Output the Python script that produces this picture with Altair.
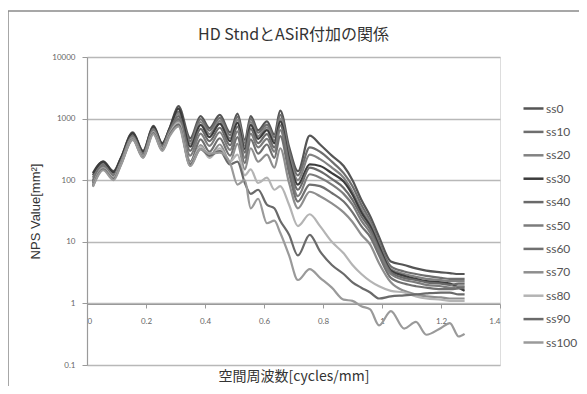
import altair as alt
import pandas as pd

freq = [0.02, 0.055, 0.09, 0.115, 0.155, 0.19, 0.225, 0.255, 0.28, 0.31,
        0.35, 0.385, 0.415, 0.45, 0.485, 0.51, 0.535, 0.555, 0.58, 0.61, 0.635, 0.655, 0.685,
        0.715, 0.755, 0.79, 0.83, 0.87, 0.9, 0.93, 0.96,
        0.99, 1.03, 1.075, 1.115, 1.15, 1.2, 1.23, 1.26, 1.28]

ss0 = [120, 200, 140, 230, 600, 300, 760, 400, 700, 1600,
       480, 1100, 700, 1150, 600, 1200, 450, 1100, 650, 900, 550, 1350, 350,
       140, 530, 380, 250, 170, 100, 48, 26,
       12, 4.8, 4.2, 3.7, 3.4, 3.2, 3.1, 3.0, 3.0]
ss10 = [110, 190, 130, 220, 560, 290, 720, 380, 680, 1300,
        430, 980, 640, 1030, 540, 1080, 400, 990, 590, 800, 500, 1150, 300,
        120, 340, 290, 200, 130, 80, 40, 22,
        10, 4.0, 3.3, 3.0, 2.8, 2.6, 2.5, 2.5, 2.5]
ss20 = [100, 180, 125, 210, 540, 280, 700, 370, 660, 1200,
        390, 880, 560, 920, 480, 960, 360, 880, 520, 720, 440, 1000, 250,
        100, 260, 220, 160, 110, 65, 34, 20,
        9, 3.6, 3.0, 2.7, 2.5, 2.4, 2.3, 2.3, 2.3]
ss30 = [130, 200, 135, 230, 580, 290, 740, 390, 690, 1450,
        350, 790, 500, 830, 430, 860, 320, 790, 470, 650, 400, 900, 220,
        85, 180, 170, 130, 95, 58, 30, 18,
        8.5, 3.4, 2.8, 2.5, 2.3, 2.2, 2.1, 1.8, 1.6]
ss40 = [95, 175, 120, 200, 520, 270, 680, 360, 640, 1100,
        300, 680, 430, 710, 370, 740, 280, 680, 400, 560, 340, 780, 190,
        70, 160, 140, 105, 75, 48, 26, 16,
        7.5, 3.2, 2.6, 2.4, 2.2, 2.1, 2.0, 2.1, 2.1]
ss50 = [90, 170, 120, 200, 510, 260, 660, 350, 620, 1000,
        250, 570, 360, 600, 310, 620, 230, 570, 340, 470, 290, 650, 160,
        55, 125, 110, 85, 60, 40, 22, 14,
        7, 3.0, 2.4, 2.2, 2.0, 1.9, 1.8, 1.9, 1.9]
ss60 = [88, 165, 115, 195, 500, 255, 640, 340, 600, 950,
        200, 460, 290, 480, 250, 500, 190, 460, 270, 380, 230, 520, 130,
        45, 85, 80, 62, 45, 30, 18, 12,
        6, 2.6, 2.1, 1.9, 1.8, 1.7, 1.7, 1.75, 1.8]
ss70 = [85, 160, 110, 190, 490, 250, 620, 330, 580, 900,
        170, 370, 240, 380, 200, 390, 150, 330, 200, 260, 160, 330, 90,
        35, 65, 55, 42, 30, 21, 13, 9,
        4.5, 2.2, 1.6, 1.4, 1.3, 1.25, 1.2, 1.2, 1.2]
ss80 = [82, 155, 110, 185, 470, 240, 600, 320, 560, 850,
        190, 350, 230, 330, 200, 260, 120, 150, 90, 110, 70, 80, 40,
        18, 28, 18, 10, 6.5, 4.2, 3.0, 2.3,
        1.9, 1.6, 1.5, 1.3, 1.2, 1.15, 1.1, 1.1, 1.1]
ss90 = [80, 150, 105, 180, 460, 235, 580, 310, 540, 800,
        180, 320, 250, 300, 180, 200, 90, 60, 70, 40, 35, 22, 13,
        6, 13, 7, 4.2, 3.0, 2.2, 1.8, 1.5,
        1.2, 1.3, 1.35, 1.4, 1.45, 1.5, 1.5, 1.4, 1.4]
ss100 = [78, 145, 100, 175, 450, 230, 560, 300, 520, 750,
         170, 320, 270, 280, 190, 85, 100, 35, 50, 20, 22, 14, 6,
         2.4, 3.6, 2.6, 1.8, 1.15, 1.1, 0.9, 0.8,
         0.44, 0.75, 0.39, 0.5, 0.31, 0.4, 0.48, 0.29, 0.32]

names = ["ss0", "ss10", "ss20", "ss30", "ss40", "ss50",
         "ss60", "ss70", "ss80", "ss90", "ss100"]
series_values = [ss0, ss10, ss20, ss30, ss40, ss50, ss60, ss70, ss80, ss90, ss100]
colors = ["#555555", "#6e6e6e", "#828282", "#3c3c3c", "#6a6a6a", "#7c7c7c",
          "#707070", "#8e8e8e", "#b4b4b4", "#6a6a6a", "#9a9a9a"]

x_ticks = [0, 0.2, 0.4, 0.6, 0.8, 1.0, 1.2, 1.4]
y_ticks = [0.1, 1, 10, 100, 1000, 10000]

rows = []
for name, vals in zip(names, series_values):
    for f, v in zip(freq, vals):
        rows.append({"freq": f, "nps": v, "series": name})
df = pd.DataFrame(rows)

lines = alt.Chart(df).mark_line(strokeWidth=2.2, interpolate="monotone").encode(
    x=alt.X("freq:Q",
            scale=alt.Scale(domain=[0, 1.4], nice=False),
            axis=alt.Axis(values=x_ticks, format="~g", offset=-61, grid=False,
                          domainColor="#9a9a9a", domainWidth=1.2,
                          tickColor="#9a9a9a", tickSize=4,
                          labelFontSize=8, labelColor="#666666", labelPadding=9,
                          labelFont="Lato",
                          title="空間周波数[cycles/mm]", titleFont="Noto Sans CJK JP",
                          titleFontSize=14, titleFontWeight="normal", titleColor="#333333",
                          titleY=72, titleBaseline="middle")),
    y=alt.Y("nps:Q",
            scale=alt.Scale(type="log", domain=[0.1, 10000], nice=False),
            axis=alt.Axis(values=y_ticks, format="~g", grid=True,
                          gridColor="#b8b8b8", gridWidth=1.6,
                          domainColor="#9a9a9a", domainWidth=1.2,
                          tickColor="#9a9a9a", tickSize=5,
                          labelFontSize=8, labelColor="#666666", labelPadding=7,
                          labelFont="Lato",
                          title="NPS Value[mm²]", titleFont="Liberation Sans",
                          titleFontSize=13, titleFontWeight="normal", titleColor="#333333",
                          titleAngle=270, titleX=-52, titleY=154,
                          titleAlign="center", titleBaseline="middle")),
    color=alt.Color("series:N",
                    scale=alt.Scale(domain=names, range=colors),
                    legend=alt.Legend(orient="none", legendX=435, legendY=40,
                                      title=None, symbolType="stroke", symbolSize=400,
                                      symbolStrokeWidth=2.5, labelFontSize=12,
                                      labelFont="Lato", labelColor="#555555",
                                      labelOffset=1, rowPadding=5.4, padding=0)),
)

frame_df = pd.DataFrame({"k": [0]})
frame_left = alt.Chart(frame_df).mark_rule(color="#8a8a8a", strokeWidth=1.5).encode(
    x=alt.value(-79), y=alt.value(-46), y2=alt.value(340))
frame_top = alt.Chart(frame_df).mark_rule(color="#8a8a8a", strokeWidth=1.5).encode(
    x=alt.value(-79), x2=alt.value(500), y=alt.value(-46))

chart = alt.layer(lines, frame_left, frame_top).properties(
    width=413, height=308,
    title=alt.TitleParams("HD StndとASiR付加の関係", font="Noto Sans CJK JP",
                          fontSize=16, fontWeight="normal", color="#333333",
                          anchor="middle", offset=14, dy=47),
    padding={"left": 79, "top": 49, "right": 79, "bottom": 21},
    autosize="none",
).configure_view(stroke=None).configure(background="white")

chart.save("out.html", embed_options={"renderer": "svg", "actions": False})
